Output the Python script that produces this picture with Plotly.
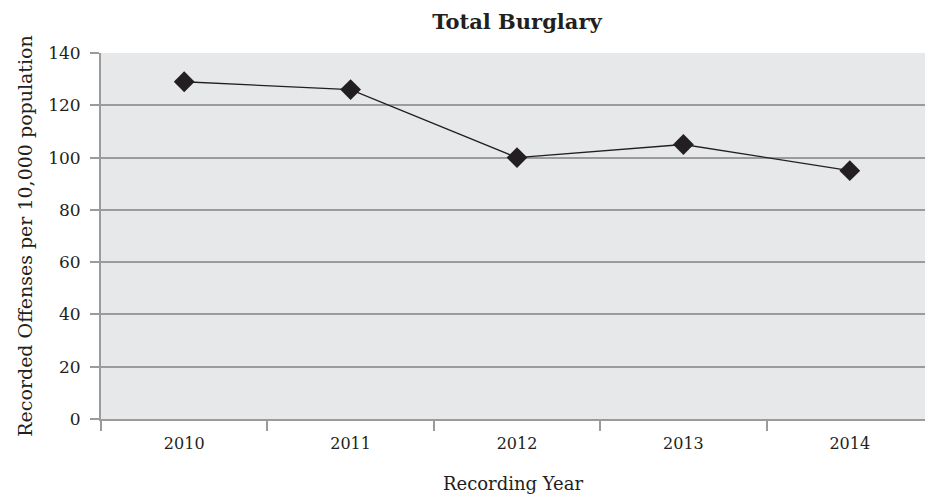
import plotly.graph_objects as go

years = ["2010", "2011", "2012", "2013", "2014"]
offenses = [129, 126, 100, 105, 95]
y_ticks = [0, 20, 40, 60, 80, 100, 120, 140]

FONT = "DejaVu Serif"
INK = "#231f20"
GRID = "#9b9b9b"

fig = go.Figure(
    go.Scatter(
        x=years,
        y=offenses,
        mode="lines+markers",
        line=dict(color=INK, width=1.3),
        marker=dict(symbol="diamond", size=16, color=INK),
        showlegend=False,
        hoverinfo="x+y",
    )
)

fig.update_layout(
    width=925,
    height=500,
    margin=dict(l=101, r=0, t=53, b=81),
    paper_bgcolor="white",
    plot_bgcolor="#e7e8ea",
    font=dict(family=FONT, color=INK, size=15),
    title=dict(
        text="<b>Total Burglary</b>",
        font=dict(family=FONT, size=21, color=INK),
        x=517 / 925,
        xref="container",
        xanchor="center",
        y=1 - 22 / 500,
        yref="container",
        yanchor="middle",
    ),
    xaxis=dict(
        type="category",
        range=[-0.5, -0.5 + 824 / 166.4],
        tickson="boundaries",
        ticks="outside",
        ticklen=10,
        tickwidth=2,
        tickcolor=GRID,
        showline=True,
        linecolor=GRID,
        linewidth=2,
        showgrid=False,
        tickfont=dict(family=FONT, size=16, color=INK),
        ticklabelstandoff=9,
        title=dict(text="Recording Year", font=dict(family=FONT, size=18, color=INK), standoff=25),
        fixedrange=True,
    ),
    yaxis=dict(
        range=[0, 140],
        tickvals=y_ticks,
        ticks="outside",
        ticklen=9,
        tickwidth=2,
        tickcolor=GRID,
        showline=True,
        linecolor=GRID,
        linewidth=2,
        showgrid=True,
        gridcolor=GRID,
        gridwidth=2,
        zeroline=False,
        tickfont=dict(family=FONT, size=17, color=INK),
        ticklabelstandoff=6,
        title=dict(
            text="Recorded Offenses per 10,000 population",
            font=dict(family=FONT, size=19, color=INK),
            standoff=10,
        ),
        fixedrange=True,
    ),
)

fig.write_html("out.html")
